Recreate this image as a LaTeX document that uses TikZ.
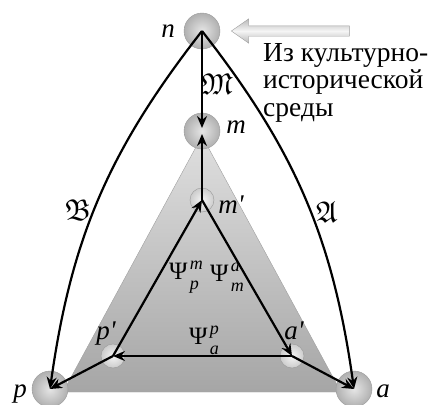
\documentclass[tikz,border=0pt]{standalone}
\usepackage{amsmath, amssymb}
\usepackage{fontspec}
\setmainfont{Liberation Serif}
\usetikzlibrary{arrows.meta, positioning, calc, shapes.arrows}

% Psi s verhnim i nizhnim indeksom
\newcommand{\psilabel}[2]{Ψ\kern2.5pt{\fontsize{18}{18}\selectfont\itshape
    \rlap{\raisebox{10.5pt}{#1}}\raisebox{-9.5pt}{#2}}}

\tikzset{
    ball/.style={circle, draw=gray!80, inner sep=0pt, shading=radial, inner color=gray!20, outer color=gray!62},
    bigball/.style={ball, minimum size=36pt},
    smallball/.style={ball, minimum size=24pt, inner color=gray!8, outer color=gray!40},
    flow/.style={line width=2.2pt, -{Stealth[length=12pt, width=10pt]}},
    lbl/.style={font=\fontsize{27}{30}\selectfont\itshape, inner sep=0pt},
    psi/.style={font=\fontsize{25}{27}\selectfont, inner sep=0pt},
    frak/.style={font=\fontsize{30}{32}\selectfont, inner sep=0pt},
    inarrow/.style={single arrow, shape border rotate=180, draw=gray!75,
        top color=gray!55, bottom color=gray!55, middle color=gray!8,
        minimum height=118pt, inner sep=5pt, single arrow head extend=7pt,
        single arrow tip angle=70},
}

\begin{document}
\begin{tikzpicture}[x=1pt, y=1pt]
    \useasboundingbox (0,0) rectangle (432,-405);
    % Treugolnik
    \shade[top color=gray!25, bottom color=gray!70, draw=gray!75] (202,-136) -- (341,-392) -- (63,-392) -- cycle;
    % Uzly
    \node[bigball] (n) at (202,-31) {};
    \node[bigball] (m) at (202,-131) {};
    \node[smallball] (m1) at (202,-200) {};
    \node[smallball] (p1) at (113,-356) {};
    \node[smallball] (a1) at (292,-356) {};
    \node[bigball] (p) at (50,-389) {};
    \node[bigball] (a) at (354,-389) {};
    % Strelki
    \draw[flow, shorten >=3pt] (n.center) -- (m.center);
    \draw[flow, shorten >=3pt] (m1.center) -- (m.center);
    \draw[flow] (p1.center) -- (m1.center);
    \draw[flow] (m1.center) -- (a1.center);
    \draw[flow] (a1.center) -- (p1.center);
    \draw[flow] (p1.center) -- (p.center);
    \draw[flow] (a1.center) -- (a.center);
    \draw[flow] (n.center) to[out=232, in=82] (p.center);
    \draw[flow] (n.center) to[out=308, in=98] (a.center);
    % Vneshnii vhod
    \node[inarrow, anchor=tip] (src) at (231,-31) {};
    \node[font=\fontsize{27.5}{27.5}\selectfont, align=left, anchor=north west, inner sep=0pt] (srctext) at (263,-43) {Из культурно-\\исторической\\среды};
    % Podpisi
    \node[lbl] (ln) at (168,-31) {n};
    \node[lbl] (lm) at (236,-127) {m};
    \node[lbl] (lm1) at (231,-205) {m\textquotesingle};
    \node[lbl] (lp1) at (106,-334) {p\textquotesingle};
    \node[lbl] (la1) at (294,-331) {a\textquotesingle};
    \node[lbl] (lp) at (20,-394) {p};
    \node[lbl] (la) at (383,-391) {a};
    \node[frak] (fm) at (217,-84) {$\mathfrak{M}$};
    \node[frak] (fb) at (78,-210) {$\mathfrak{B}$};
    \node[frak] (fa) at (327,-212) {$\mathfrak{A}$};
    \node[psi] (psipm) at (184,-277) {\psilabel{m}{p}};
    \node[psi] (psima) at (227,-277) {\psilabel{a}{m}};
    \node[psi] (psiap) at (204,-340) {\psilabel{p}{a}};
\end{tikzpicture}
\end{document}
